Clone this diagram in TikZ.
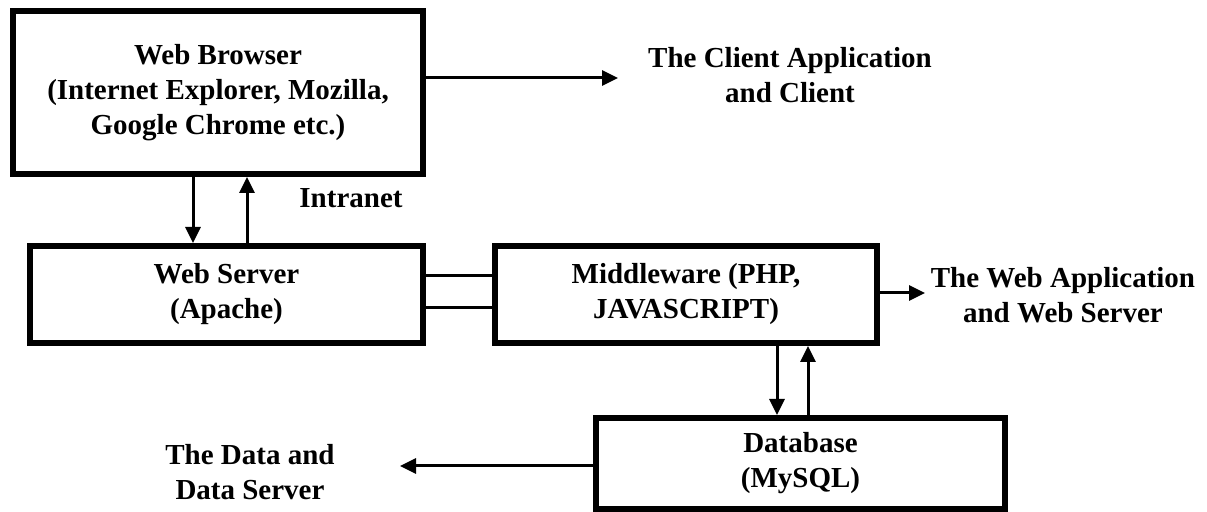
\documentclass[tikz,border=0pt]{standalone}
\usepackage{fontspec}
\setmainfont{Liberation Serif}
\usetikzlibrary{arrows.meta}
\tikzset{
  txt/.style={align=center, inner sep=0pt, font=\fontsize{14.5}{17.5}\selectfont\bfseries},
  block/.style={txt, draw, line width=3pt},
  link/.style={line width=1.5pt, -{Triangle[length=8pt,width=7.5pt]}},
  wire/.style={line width=1.5pt}
}
\begin{document}
\begin{tikzpicture}[x=0.5pt,y=-0.5pt]
                \useasboundingbox (0,0) rectangle (1207,512);
                \node[block, minimum width=205pt, minimum height=81.5pt] (browser) at (218,92.5) {Web Browser\\(Internet Explorer, Mozilla,\\Google Chrome etc.)};
                \node[block, minimum width=196.5pt, minimum height=48.5pt] (server) at (226.5,294.5) {Web Server\\(Apache)};
                \node[block, minimum width=191pt, minimum height=48.5pt] (middle) at (686,294.5) {Middleware (PHP,\\JAVASCRIPT)};
                \node[block, minimum width=204.5pt, minimum height=45.5pt] (db) at (800.5,463.5) {Database\\(MySQL)};

                \node[txt] (client) at (790,75) {The Client Application\\and Client};
                \node[txt] (webapp) at (1063,295) {The Web Application\\and Web Server};
                \node[txt] (intranet) at (351,198) {Intranet};
                \node[txt] (data) at (250,472) {The Data and\\Data Server};

                \coordinate (clientend) at (618,78);
                \coordinate (webappend) at (925,293);
                \coordinate (dataend) at (400,466);
                \draw[link] (browser.east |- clientend) -- (clientend);
                \draw[link] (middle.east |- webappend) -- (webappend);
                \draw[link] (db.west |- dataend) -- (dataend);

                \foreach \x/\from/\to in {193/browser.south/server.north,247/server.north/browser.south,777/middle.south/db.north,808/db.north/middle.south} {
                  \coordinate (p) at (\x,0);
                  \draw[link] (p |- \from) -- (p |- \to);
                }
                \foreach \y in {276,308} {
                  \coordinate (q) at (0,\y);
                  \draw[wire] (server.east |- q) -- (middle.west |- q);
                }
            \end{tikzpicture}
\end{document}
